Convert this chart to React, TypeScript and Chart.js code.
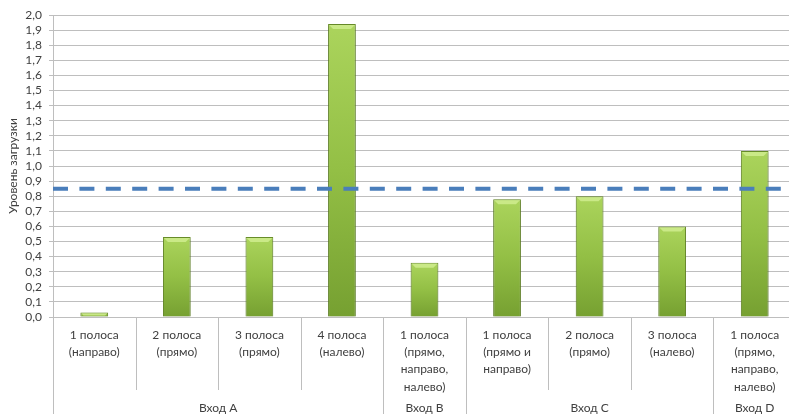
import React, { useEffect, useRef } from 'react';
import { Chart, registerables } from 'chart.js';

Chart.register(...registerables);

// Lane labels (one per bar), split into lines as they appear under the axis
const laneLabels: string[][] = [
  ['1 полоса', '(направо)'],
  ['2 полоса', '(прямо)'],
  ['3 полоса', '(прямо)'],
  ['4 полоса', '(налево)'],
  ['1 полоса', '(прямо,', 'направо,', 'налево)'],
  ['1 полоса', '(прямо и', 'направо)'],
  ['2 полоса', '(прямо)'],
  ['3 полоса', '(налево)'],
  ['1 полоса', '(прямо,', 'направо,', 'налево)'],
];

// Load level per lane
const loadLevels: number[] = [0.03, 0.53, 0.53, 1.94, 0.36, 0.78, 0.8, 0.6, 1.1];

// Entrances grouping the lanes
const entranceNames: string[] = ['Вход A', 'Вход B', 'Вход C', 'Вход D'];
const entranceLaneCounts: number[] = [4, 1, 3, 1];

// Threshold level shown as a dashed line
const loadThreshold = 0.85;

const yMin = 0;
const yMax = 2;
const yStep = 0.1;
const yTitle = 'Уровень загрузки';

const FONT = 'Lato, "Open Sans", "Noto Sans", sans-serif';
const TEXT = '#404040';
const GRID = '#bebebe';

const fmt = (v: number) => v.toFixed(1).replace('.', ',');

// Cell separators below the axis and the entrance captions
const groupAxisPlugin = {
  id: 'groupAxis',
  afterDraw(chart: Chart) {
    const { ctx, chartArea } = chart;
    const x = chart.scales.x;
    const n = laneLabels.length;
    const half = (x.getPixelForValue(1) - x.getPixelForValue(0)) / 2;
    const edge = (i: number) => (i === 0 ? chartArea.left : x.getPixelForValue(i) - half);
    const groupEdges = new Set<number>();
    let acc = 0;
    entranceLaneCounts.forEach((c) => {
      acc += c;
      groupEdges.add(acc);
    });
    const bottom = chart.height;
    ctx.save();
    ctx.strokeStyle = GRID;
    ctx.lineWidth = 1;
    for (let i = 0; i < n; i++) {
      const px = Math.round(edge(i)) + 0.5;
      const isGroup = i === 0 || groupEdges.has(i);
      ctx.beginPath();
      ctx.moveTo(px, chartArea.bottom);
      ctx.lineTo(px, isGroup ? bottom : chartArea.bottom + 73);
      ctx.stroke();
    }
    ctx.fillStyle = TEXT;
    ctx.font = `12px ${FONT}`;
    ctx.textAlign = 'center';
    ctx.textBaseline = 'middle';
    let start = 0;
    entranceNames.forEach((name, gi) => {
      const end = start + entranceLaneCounts[gi];
      const cx = (x.getPixelForValue(start) + x.getPixelForValue(end - 1)) / 2;
      ctx.fillText(name, cx, chartArea.bottom + 91.5);
      start = end;
    });
    ctx.restore();
  },
};

// Soft shadow under the bars
const barShadowPlugin = {
  id: 'barShadow',
  beforeDatasetDraw(chart: Chart) {
    const { ctx } = chart;
    ctx.save();
    ctx.shadowColor = 'rgba(0,0,0,0.28)';
    ctx.shadowBlur = 3;
    ctx.shadowOffsetX = 0;
    ctx.shadowOffsetY = 1;
  },
  afterDatasetDraw(chart: Chart) {
    chart.ctx.restore();
  },
};

// Bevel highlight on bar tops, then the dashed threshold line over everything
const overlayPlugin = {
  id: 'overlay',
  afterDatasetsDraw(chart: Chart) {
    const { ctx, chartArea } = chart;
    const meta = chart.getDatasetMeta(0);
    ctx.save();
    meta.data.forEach((el: any) => {
      const { x, y, width, base } = el.getProps(['x', 'y', 'width', 'base'], true);
      const h = Math.min(4, (base - y) / 2);
      const l = x - width / 2 + 1;
      const r = x + width / 2 - 1;
      ctx.fillStyle = 'rgba(205, 235, 140, 0.9)';
      ctx.beginPath();
      ctx.moveTo(l, y + 1);
      ctx.lineTo(r, y + 1);
      ctx.lineTo(r - h, y + 1 + h);
      ctx.lineTo(l + h, y + 1 + h);
      ctx.closePath();
      ctx.fill();
    });
    const yPx = chart.scales.y.getPixelForValue(loadThreshold);
    ctx.strokeStyle = '#4a7ebb';
    ctx.lineWidth = 4;
    ctx.setLineDash([15, 11.4]);
    ctx.beginPath();
    ctx.moveTo(chartArea.left, yPx);
    ctx.lineTo(chartArea.right - 15, yPx);
    ctx.stroke();
    ctx.restore();
  },
};

export default function App() {
  const canvasRef = useRef<HTMLCanvasElement | null>(null);

  useEffect(() => {
    const canvas = canvasRef.current;
    if (!canvas) return;
    const chart = new Chart(canvas, {
      type: 'bar',
      data: {
        labels: laneLabels,
        datasets: [
          {
            data: loadLevels,
            backgroundColor: (c: any) => {
              const ch = c.chart;
              const ys = ch.scales?.y;
              if (!ch.chartArea || !ys || typeof c.raw !== 'number') return '#92bd45';
              const top = ys.getPixelForValue(c.raw);
              const bot = ys.getPixelForValue(0);
              const g = ch.ctx.createLinearGradient(0, top, 0, Math.max(bot, top + 1));
              g.addColorStop(0, '#abd45c');
              g.addColorStop(0.5, '#93bf45');
              g.addColorStop(1, '#76a031');
              return g;
            },
            borderColor: '#6a8f2a',
            borderWidth: 1,
            barPercentage: 0.336,
            categoryPercentage: 1,
          },
        ],
      },
      options: {
        responsive: false,
        animation: false,
        layout: { padding: { top: 15, left: 0, right: 0, bottom: 0 } },
        plugins: {
          legend: { display: false },
          tooltip: { enabled: false },
        },
        scales: {
          x: {
            grid: { display: false, drawTicks: false },
            border: { display: false },
            ticks: {
              autoSkip: false,
              maxRotation: 0,
              minRotation: 0,
              padding: 9,
              color: TEXT,
              font: { family: FONT, size: 12, lineHeight: 1.45 },
            },
            afterFit: (s: any) => {
              s.height = 97;
            },
          },
          y: {
            min: yMin,
            max: yMax,
            grid: { color: GRID, lineWidth: 1, tickLength: 4 },
            border: { color: GRID },
            ticks: {
              stepSize: yStep,
              autoSkip: false,
              padding: 7,
              color: TEXT,
              font: { family: FONT, size: 12 },
              callback: (v: any) => fmt(Number(v)),
            },
            title: {
              display: true,
              text: yTitle,
              color: TEXT,
              font: { family: FONT, size: 12 },
              padding: { top: 6, bottom: 0 },
            },
            afterFit: (s: any) => {
              s.width = 53;
            },
          },
        },
      },
      plugins: [barShadowPlugin, overlayPlugin, groupAxisPlugin],
    });
    return () => chart.destroy();
  }, []);

  return (
    <div
      style={{
        position: 'fixed',
        left: 0,
        top: 0,
        width: 789,
        height: 414,
        overflow: 'hidden',
        background: '#ffffff',
      }}
    >
      <canvas ref={canvasRef} width={796} height={414} style={{ display: 'block' }} />
    </div>
  );
}
